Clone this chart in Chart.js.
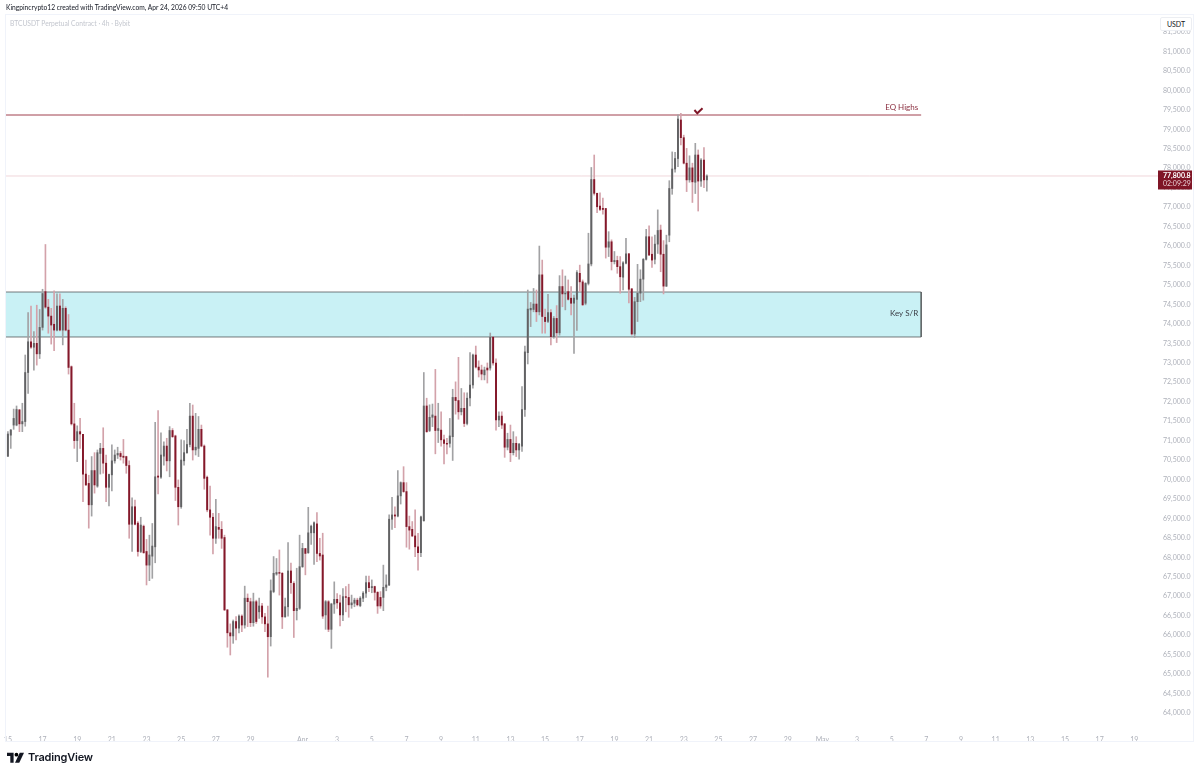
<!DOCTYPE html>
<html>
<head>
<meta charset="utf-8">
<title>BTCUSDT 4h</title>
<script src="https://cdn.jsdelivr.net/npm/chart.js@4/dist/chart.umd.min.js"></script>
<style>
  html, body { margin: 0; padding: 0; background: #fff; overflow: hidden; }
  #wrap { position: relative; width: 1200px; height: 774px; font-family: Lato, sans-serif; }
  canvas { position: absolute; left: 0; top: 0; }
  #frame { position: absolute; left: 5px; top: 14px; width: 1187px; height: 726px; border: 1px solid #f0f3fa; }
  #credit { position: absolute; left: 6px; top: 3px; font-size: 6.7px; line-height: 9px; color: #131722; white-space: nowrap; }
  #symbol { position: absolute; left: 10px; top: 19px; font-size: 6.7px; line-height: 9px; color: #c3c6ce; white-space: nowrap; }
  #unit { position: absolute; left: 1160px; top: 17px; width: 32px; height: 14px; box-sizing: border-box; border: 1px solid #eceef2; border-radius: 2px; background: #fff; font-size: 7px; line-height: 12px; text-align: center; color: #131722; }
  #brand { position: absolute; left: 7px; top: 750px; display: flex; align-items: center; }
  #brand span { font: 600 11px Inter, sans-serif; color: #131722; margin-left: 4px; letter-spacing: -0.2px; }
</style>
</head>
<body>
<div id="wrap">
  <canvas id="grafico" width="1200" height="774"></canvas>
  <div id="frame"></div>
  <div id="credit">Kingpincrypto12 created with TradingView.com, Apr 24, 2026 09:50 UTC+4</div>
  <div id="symbol">BTCUSDT Perpetual Contract · 4h · Bybit</div>
  <div id="unit">USDT</div>
  <div id="brand">
    <svg width="17" height="13" viewBox="0 0 36 26"><path fill="#131722" d="M14 3H0v7h7v14h7z"/><circle cx="20" cy="7" r="4"/><path fill="#131722" d="M27 3h9l-10 21h-9z"/></svg>
    <span>TradingView</span>
  </div>
</div>
<script>
// 4h candles
const opens = [
  70600,71140,71400,71400,71790,71430,71490,72750,73540,73400,
  73500,73230,73910,74830,74430,74200,73990,73840,74460,73840,
  74400,73840,72900,71430,71000,71230,71160,70140,69900,69350,
  70230,69830,70670,70800,70420,69800,70120,70480,70630,70670,
  70600,70590,70360,68850,69300,68880,68150,68800,68150,67800,
  68030,68270,70090,70060,70600,70860,70480,71260,71120,69800,
  69300,70480,70690,70900,71630,70760,70800,71290,70860,70060,
  69220,69030,68490,68770,68720,68510,66650,66060,65980,66350,
  66180,66490,66260,66950,66860,66320,66860,66600,66750,66470,
  66290,65960,67120,67570,67610,67590,66470,66730,67650,67330,
  66630,66690,67760,68225,68120,68630,68630,68860,68100,68060,
  66520,66860,66150,66800,66920,66830,66520,66990,66970,66780,
  66820,66900,66760,66950,67080,67350,67220,67250,67100,66970,
  66970,67230,67290,68980,69090,69060,69580,69920,69690,68790,
  68720,68550,68270,68120,68940,71890,71260,71600,71630,71260,
  71270,71020,70930,70930,71100,72110,72030,71740,71830,71440,
  72095,72430,73200,72890,72815,72690,72865,72865,73660,72995,
  71530,71630,71430,70830,71030,70690,70930,70760,70860,71800,
  73260,74360,74370,74510,74310,75260,74170,74060,74290,73670,
  74140,73770,74960,74770,74830,74660,74530,74630,75300,75080,
  74530,75040,75540,77710,77355,77030,76970,76965,75970,76110,
  75600,75630,75470,75200,75560,75800,74900,73740,74570,74790,
  75150,75660,76240,75790,75660,76050,76410,75790,74970,76280,
  77480,77980,78250,79240,78785,78130,77700,78010,77640,78340,
  77670,78210,77700
];
const highs = [
  71230,71290,71810,71890,71800,71960,73200,74290,74460,73800,
  74480,74370,74890,76040,74630,74400,74850,74770,74770,74630,
  74440,74240,72920,71960,71380,71570,71160,70500,70110,70590,
  70690,70760,70930,71330,70630,70140,70890,70760,70830,70720,
  71030,70600,70480,69530,69470,68920,69030,68830,68460,68570,
  68870,71470,71770,71200,70970,71060,71360,71310,71140,69990,
  71020,71000,71290,71960,71915,71700,71620,71400,70890,70090,
  69830,69130,69490,69130,68920,68570,66660,66290,66390,66480,
  66520,66520,67260,67060,66950,67080,66900,66950,66820,66560,
  66750,67420,68020,67970,68190,67610,66950,68380,67850,67375,
  67720,68570,68360,68230,69285,68830,68915,69150,68490,68620,
  66890,66890,66820,67370,67070,67030,67200,67250,67310,67030,
  66950,66950,66990,67120,67520,67520,67420,67260,67120,67120,
  67800,67550,69090,69540,69300,70230,69940,70330,69920,69060,
  68920,69220,68620,69060,72750,72090,71920,71940,72830,71960,
  71740,71140,71060,71570,72320,72510,73140,72340,72230,72230,
  73260,73226,73430,73050,72940,72890,72995,73765,73670,73100,
  71740,71740,71440,71190,71400,71230,71100,70930,72390,73430,
  74870,74550,74910,74870,76000,75640,74380,74760,74370,74190,
  74470,75240,75390,75230,75130,74960,74740,75370,75510,75130,
  75060,76330,78020,78340,77360,77370,77230,76970,76370,76160,
  75860,75740,75730,75600,76200,75810,74910,74680,75530,75390,
  75680,76430,76520,76240,76280,76930,76540,76140,76280,77680,
  78420,78410,79370,79410,78850,78510,78320,78130,78640,78470,
  78250,78530,77830
];
const lows = [
  70590,70800,71290,71380,71230,71230,71370,72210,73370,72810,
  72940,73110,73840,74400,73760,73480,73310,73820,73820,73460,
  73820,72710,71400,70800,70460,70800,69430,69850,68750,69060,
  69650,69800,70140,70160,69430,69320,69710,70420,70540,70500,
  70420,70160,68490,68150,68830,68030,68120,68100,67290,67400,
  67460,67860,69630,70030,70370,70220,70070,71080,69460,68830,
  69260,70370,70670,70840,70500,70630,70590,70840,69750,69170,
  68570,68090,68360,68490,68230,66630,65690,65490,65790,65880,
  66060,66090,66180,66220,66220,66230,66300,66430,66300,66090,
  64920,65720,67090,67540,67030,66170,66460,66490,67075,65940,
  66390,66660,67740,67550,68100,68330,67820,67890,67930,66430,
  66150,66090,65660,66560,66690,66240,66370,66600,66460,66690,
  66730,66750,66730,66860,66970,67120,67090,66900,66560,66690,
  66630,67140,67270,68720,68760,69040,69370,69670,68260,68210,
  68530,68020,67670,68020,68930,71210,71230,71360,70660,70950,
  70860,70400,70660,70830,70490,71680,71550,71660,71360,71400,
  71890,72350,72865,72635,72560,72560,72480,72810,72940,71270,
  71360,71310,70570,70760,70460,70630,70590,70520,70720,71620,
  72970,73930,74310,74060,74230,73760,73760,74030,73460,73630,
  73520,73710,74440,74360,74610,74230,73240,73830,74830,74470,
  74490,75000,75490,77310,76860,76910,76820,75690,75730,75385,
  75540,75300,74790,74870,75540,74540,73710,73650,74060,74570,
  74610,75640,75750,75450,75540,75810,75340,74770,74960,76110,
  77330,77900,78040,78600,78110,77400,77640,77120,77350,76900,
  77530,77500,77410
];
const closes = [
  71170,71270,71570,71800,71430,71490,72750,73540,73400,73500,
  73230,73910,74780,74430,74200,73970,73840,74460,73840,74400,
  73840,72880,71430,71000,71230,71170,70140,69860,69350,70230,
  69860,70690,70800,70420,69800,70130,70480,70630,70670,70590,
  70570,70360,68850,69300,68850,68150,68830,68120,67800,68060,
  68290,70070,70060,70630,70860,70480,71260,71100,69800,69300,
  70500,70690,70900,71630,70760,70830,71290,70860,70030,69220,
  69030,68490,68790,68720,68490,66650,66060,65980,66350,66180,
  66490,66260,66950,66860,66320,66860,66350,66750,66470,66290,
  65960,67140,67590,67610,67590,66470,66730,67650,67350,66630,
  66690,67760,68230,68100,68630,68800,68890,68100,68035,66490,
  66860,66150,66800,66920,66830,66520,66990,66970,66780,66830,
  66900,66780,66950,67080,67350,67220,67250,67100,66750,66750,
  67230,67290,68980,69090,69060,69580,69920,69690,68790,68700,
  68550,68270,68120,69040,71890,71230,71600,71660,71260,71310,
  71020,70930,70910,71120,72110,72030,71740,71830,71440,72090,
  72430,73200,72890,72815,72710,72815,72815,73660,72995,71530,
  71630,71400,70830,71030,70690,70930,70760,70910,71800,73280,
  74380,74400,74510,74310,75260,74190,74060,74290,73670,74140,
  73770,74960,74770,74790,74630,74530,74660,75320,75080,74490,
  75040,75540,77710,77355,77010,76940,76940,75970,76110,75600,
  75630,75470,75210,75570,75800,74890,73740,74570,74790,75150,
  75660,76240,75770,75640,76050,76400,75790,74970,76030,77480,
  77980,78250,79265,78785,78130,77700,78010,77650,78340,77670,
  78210,77700,77800.8
];

// time axis, position is the candle number (6 candles a day, first one Mar 15)
const tickPositions = [0,12,24,36,48,60,72,84,102,114,126,138,150,162,174,186,198,210,222,234,246,258,270,282,294,306,318,330,342,354,366,378,390];
const tickLabels = ['15','17','19','21','23','25','27','29','Apr','3','5','7','9','11','13','15','17','19','21','23','25','27','29','May','3','5','7','9','11','13','15','17','19'];
const priceTicks = [64000,64500,65000,65500,66000,66500,67000,67500,68000,68500,69000,69500,70000,70500,71000,71500,72000,72500,73000,73500,74000,74500,75000,75500,76000,76500,77000,77500,78000,78500,79000,79500,80000,80500,81000,81500];

// price levels drawn on the chart
const eqHigh = 79368;
const zoneTop = 74819;
const zoneBottom = 73663;
const lastPrice = 77800.8;
const countdown = '02:09:29';
const drawEnd = 316.2;
const xMin = -1;
const xMax = 398.2;
const yMin = 63691;
const yMax = 81964;
const checkX = [237.7, 238.7, 240.5];
const checkY = [79497, 79412, 79540];

const upBody = '#626264', downBody = '#84182a';
const upWick = '#a2a2a4', downWick = '#d3a2aa';
const fontName = 'Lato, sans-serif';

const wickData = highs.map((h, i) => ({ x: i, y: [lows[i], h] }));
const bodyData = opens.map((o, i) => ({ x: i, y: [Math.min(o, closes[i]), Math.max(o, closes[i])] }));
const wickColors = opens.map((o, i) => closes[i] >= o ? upWick : downWick);
const bodyColors = opens.map((o, i) => closes[i] >= o ? upBody : downBody);

function flat(level, from, to) {
  return [{ x: from, y: level }, { x: to, y: level }];
}

// labels on the drawings and the price badge
const overlay = {
  id: 'overlay',
  afterDraw(chart) {
    const c = chart.ctx, sx = chart.scales.x, sy = chart.scales.y;
    c.save();
    c.textBaseline = 'middle';
    c.textAlign = 'right';
    c.font = '8px ' + fontName;
    c.fillStyle = '#8b2f40';
    c.fillText('EQ Highs', sx.getPixelForValue(drawEnd) - 3, sy.getPixelForValue(eqHigh) - 7.5);
    c.fillStyle = '#3a3d45';
    c.fillText('Key S/R', sx.getPixelForValue(drawEnd) - 3, sy.getPixelForValue((zoneTop + zoneBottom) / 2) - 1);

    const yp = sy.getPixelForValue(lastPrice);
    c.fillStyle = '#7f1526';
    c.fillRect(1158, yp - 5.5, 34, 19);
    c.textAlign = 'left';
    c.font = 'bold 7px ' + fontName;
    c.fillStyle = '#ffffff';
    c.fillText(lastPrice.toLocaleString('en-US', { minimumFractionDigits: 1 }), 1163, yp);
    c.font = '7px ' + fontName;
    c.fillStyle = '#e8cdd2';
    c.fillText(countdown, 1163, yp + 8);
    c.restore();
  }
};

new Chart(document.getElementById('grafico'), {
  type: 'bar',
  plugins: [overlay],
  data: {
    datasets: [
      { type: 'line', order: 1, data: checkX.map((x, i) => ({ x: x, y: checkY[i] })), borderColor: '#7f1526', borderWidth: 2, pointRadius: 0, tension: 0 },
      { type: 'bar', order: 4, grouped: false, data: bodyData, backgroundColor: bodyColors, barThickness: 1.3 },
      { type: 'bar', order: 5, grouped: false, data: wickData, backgroundColor: wickColors, barThickness: 1 },
      { type: 'line', order: 6, data: flat(eqHigh, xMin, drawEnd), borderColor: '#a0404f', borderWidth: 1, pointRadius: 0 },
      { type: 'line', order: 6, data: flat(lastPrice, xMin, xMax), borderColor: '#ecccd1', borderWidth: 0.8, pointRadius: 0 },
      {
        type: 'line', order: 7,
        data: [{ x: xMin, y: zoneTop }, { x: drawEnd, y: zoneTop }, { x: drawEnd, y: zoneBottom }, { x: xMin, y: zoneBottom }],
        borderColor: '#55585b', borderWidth: 0.8, pointRadius: 0
      },
      {
        type: 'line', order: 8, data: flat(zoneTop, xMin, drawEnd), borderWidth: 0, pointRadius: 0,
        fill: { target: { value: zoneBottom } }, backgroundColor: '#c9f1f5'
      }
    ]
  },
  options: {
    responsive: false,
    devicePixelRatio: 1,
    animation: false,
    events: [],
    layout: { padding: { left: 5, top: 14, right: 7, bottom: 33 } },
    plugins: { legend: { display: false }, tooltip: { enabled: false }, title: { display: false } },
    scales: {
      x: {
        type: 'linear',
        offset: false,
        min: xMin,
        max: xMax,
        grid: { display: false },
        border: { display: false },
        afterBuildTicks: s => { s.ticks = tickPositions.map(v => ({ value: v })); },
        afterFit: s => { s.height = 16; },
        ticks: {
          autoSkip: false,
          maxRotation: 0,
          padding: 3,
          color: '#aeb1ba',
          font: { family: fontName, size: 7 },
          callback: v => tickLabels[tickPositions.indexOf(v)]
        }
      },
      y: {
        position: 'right',
        min: yMin,
        max: yMax,
        grid: { display: false, drawTicks: false },
        border: { display: false },
        afterBuildTicks: s => { s.ticks = priceTicks.map(v => ({ value: v })); },
        afterFit: s => { s.width = 35; },
        ticks: {
          autoSkip: false,
          padding: 5,
          color: '#aeb1ba',
          font: { family: fontName, size: 7 },
          callback: v => v.toLocaleString('en-US', { minimumFractionDigits: 1 })
        }
      }
    }
  }
});
</script>
</body>
</html>
